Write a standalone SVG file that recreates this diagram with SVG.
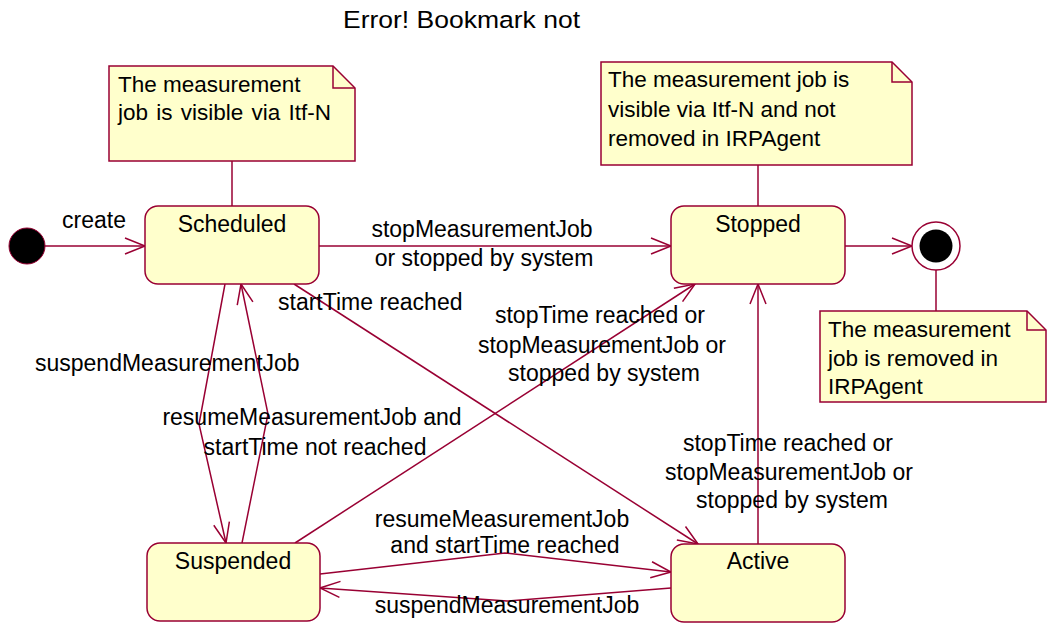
<svg xmlns="http://www.w3.org/2000/svg" width="1047" height="623" viewBox="0 0 1047 623">
  <defs>
    <marker id="open-arrow" viewBox="-22 -10 24 20" markerWidth="24" markerHeight="20" refX="0" refY="0" orient="auto" markerUnits="userSpaceOnUse" overflow="visible">
      <path d="M-20,-8 L0,0 L-20,8" fill="none" stroke="#990033" stroke-width="1.5"/>
    </marker>
    <style>
      text { font-family: "Liberation Sans", Arial, sans-serif; fill: #000; }
      .state { fill: #FFFFCC; stroke: #990033; stroke-width: 1.5; }
      .note { fill: #FFFFCC; stroke: #990033; stroke-width: 1.5; }
      .fold { fill: none; stroke: #990033; stroke-width: 1.5; }
      .name { font-size: 23px; text-anchor: middle; }
      .ntext { font-size: 22.5px; }
      .label { font-size: 23px; }
      .mid { text-anchor: middle; }
      .edge { fill: none; stroke: #990033; stroke-width: 1.5; marker-end: url(#open-arrow); }
      .anchor { fill: none; stroke: #990033; stroke-width: 1.5; }
    </style>
  </defs>

  <text x="343" y="28" style="font-size:24.5px" textLength="237" lengthAdjust="spacingAndGlyphs">Error! Bookmark not</text>

  <!-- connectors -->
  <g id="connectors">
    <!-- note anchors -->
    <line class="anchor" x1="232" y1="161" x2="232" y2="206"/>
    <line class="anchor" x1="758" y1="165" x2="758" y2="206"/>
    <line class="anchor" x1="936" y1="270" x2="936" y2="311"/>

    <!-- create -->
    <line class="edge" x1="45" y1="246" x2="145" y2="246"/>
    <text class="label" x="62" y="228">create</text>

    <!-- Scheduled -> Stopped -->
    <line class="edge" x1="319" y1="246" x2="671" y2="246"/>
    <text class="label mid" x="482" y="237">stopMeasurementJob</text>
    <text class="label mid" x="484" y="266">or stopped by system</text>

    <!-- Stopped -> final -->
    <line class="edge" x1="845" y1="246" x2="912" y2="246"/>

    <!-- Scheduled -> Active -->
    <line class="edge" x1="294" y1="284" x2="698" y2="544"/>
    <text class="label" x="278" y="310">startTime reached</text>

    <!-- Scheduled -> Suspended -->
    <polyline class="edge" points="225,284 199,424 226,543"/>
    <text class="label" x="35" y="371">suspendMeasurementJob</text>

    <!-- Suspended -> Scheduled -->
    <polyline class="edge" points="242,543 268,414 241,284"/>
    <text class="label mid" x="312" y="425">resumeMeasurementJob and</text>
    <text class="label mid" x="315" y="455">startTime not reached</text>

    <!-- Suspended -> Stopped -->
    <line class="edge" x1="295" y1="543" x2="695" y2="284"/>
    <text class="label mid" x="600" y="323">stopTime reached or</text>
    <text class="label mid" x="602" y="353">stopMeasurementJob or</text>
    <text class="label mid" x="604" y="381">stopped by system</text>

    <!-- Active -> Stopped -->
    <line class="edge" x1="758" y1="544" x2="758" y2="284"/>
    <text class="label mid" x="788" y="451">stopTime reached or</text>
    <text class="label mid" x="789" y="480">stopMeasurementJob or</text>
    <text class="label mid" x="792" y="508">stopped by system</text>

    <!-- Suspended -> Active -->
    <polyline class="edge" points="320,574 505,553 671,572"/>
    <text class="label mid" x="502" y="527">resumeMeasurementJob</text>
    <text class="label mid" x="505" y="553">and startTime reached</text>

    <!-- Active -> Suspended -->
    <polyline class="edge" points="671,588 507,601 320,588"/>
    <text class="label mid" x="507" y="613">suspendMeasurementJob</text>
  </g>

  <!-- pseudo states -->
  <g id="initial">
    <circle cx="27" cy="246" r="18" fill="#000" stroke="#990033" stroke-width="1"/>
  </g>
  <g id="final">
    <circle cx="936" cy="246" r="24" fill="#fff" stroke="#990033" stroke-width="1.5"/>
    <circle cx="936" cy="246" r="16.5" fill="#000"/>
  </g>

  <!-- states -->
  <g id="scheduled">
    <rect class="state" x="145" y="206" width="174" height="78" rx="13"/>
    <text class="name" x="232" y="232">Scheduled</text>
  </g>
  <g id="stopped">
    <rect class="state" x="671" y="206" width="174" height="78" rx="13"/>
    <text class="name" x="758" y="232">Stopped</text>
  </g>
  <g id="suspended">
    <rect class="state" x="147" y="543" width="173" height="78" rx="13"/>
    <text class="name" x="233" y="569">Suspended</text>
  </g>
  <g id="active">
    <rect class="state" x="671" y="544" width="174" height="78" rx="13"/>
    <text class="name" x="758" y="569">Active</text>
  </g>

  <!-- notes -->
  <g id="note-scheduled">
    <path class="note" d="M109,66 H333 L355,88 V161 H109 Z"/>
    <path class="fold" d="M333,66 V88 H355"/>
    <text class="ntext" x="118" y="92">The measurement</text>
    <text class="ntext" x="118" y="120" word-spacing="2">job is visible via Itf-N</text>
  </g>
  <g id="note-stopped">
    <path class="note" d="M601,62 H892 L912,82 V165 H601 Z"/>
    <path class="fold" d="M892,62 V82 H912"/>
    <text class="ntext" x="608" y="87">The measurement job is</text>
    <text class="ntext" x="608" y="117">visible via Itf-N and not</text>
    <text class="ntext" x="608" y="146">removed in IRPAgent</text>
  </g>
  <g id="note-final">
    <path class="note" d="M820,311 H1027 L1046,330 V402 H820 Z"/>
    <path class="fold" d="M1027,311 V330 H1046"/>
    <text class="ntext" x="828" y="337">The measurement</text>
    <text class="ntext" x="828" y="366">job is removed in</text>
    <text class="ntext" x="828" y="394">IRPAgent</text>
  </g>
</svg>
